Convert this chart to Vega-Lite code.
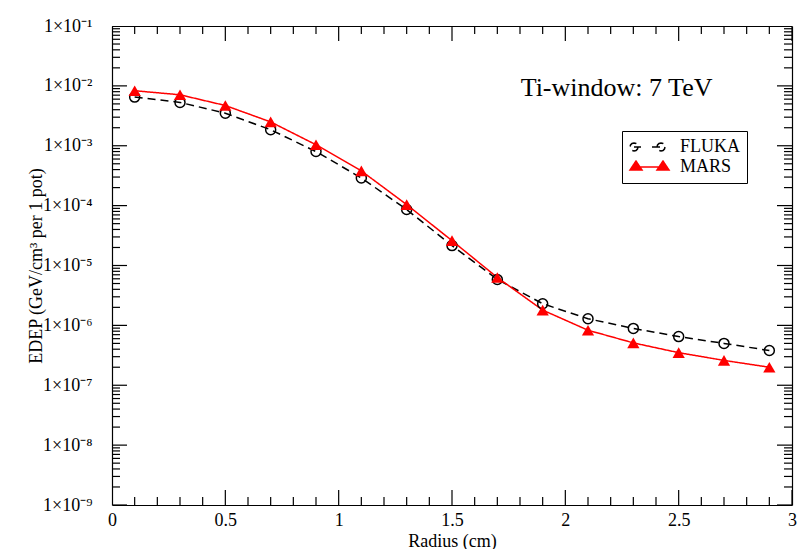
{
  "$schema": "https://vega.github.io/schema/vega-lite/v6.json",
  "width": 680,
  "height": 479,
  "autosize": {"type": "none"},
  "padding": {"left": 112, "top": 26, "right": 6, "bottom": 44},
  "background": "white",
  "config": {
    "view": {"stroke": null},
    "font": "Liberation Serif",
    "axis": {
      "domainColor": "black",
      "domainWidth": 1.2,
      "domainOpacity": 1,
      "labelFont": "Liberation Serif",
      "titleFont": "Liberation Serif",
      "labelColor": "black",
      "titleColor": "black",
      "titleFontWeight": "normal",
      "grid": false
    }
  },
  "datasets": {
    "curves": [
      {"r": 0.1, "edep": 6.5e-3, "code": "FLUKA"},
      {"r": 0.3, "edep": 5.3e-3, "code": "FLUKA"},
      {"r": 0.5, "edep": 3.5e-3, "code": "FLUKA"},
      {"r": 0.7, "edep": 1.85e-3, "code": "FLUKA"},
      {"r": 0.9, "edep": 8.0e-4, "code": "FLUKA"},
      {"r": 1.1, "edep": 2.9e-4, "code": "FLUKA"},
      {"r": 1.3, "edep": 8.6e-5, "code": "FLUKA"},
      {"r": 1.5, "edep": 2.15e-5, "code": "FLUKA"},
      {"r": 1.7, "edep": 5.85e-6, "code": "FLUKA"},
      {"r": 1.9, "edep": 2.3e-6, "code": "FLUKA"},
      {"r": 2.1, "edep": 1.29e-6, "code": "FLUKA"},
      {"r": 2.3, "edep": 8.9e-7, "code": "FLUKA"},
      {"r": 2.5, "edep": 6.5e-7, "code": "FLUKA"},
      {"r": 2.7, "edep": 5.0e-7, "code": "FLUKA"},
      {"r": 2.9, "edep": 3.8e-7, "code": "FLUKA"},
      {"r": 0.1, "edep": 8.3e-3, "code": "MARS"},
      {"r": 0.3, "edep": 7.1e-3, "code": "MARS"},
      {"r": 0.5, "edep": 4.7e-3, "code": "MARS"},
      {"r": 0.7, "edep": 2.5e-3, "code": "MARS"},
      {"r": 0.9, "edep": 1.04e-3, "code": "MARS"},
      {"r": 1.1, "edep": 3.8e-4, "code": "MARS"},
      {"r": 1.3, "edep": 1.04e-4, "code": "MARS"},
      {"r": 1.5, "edep": 2.6e-5, "code": "MARS"},
      {"r": 1.7, "edep": 6.3e-6, "code": "MARS"},
      {"r": 1.9, "edep": 1.8e-6, "code": "MARS"},
      {"r": 2.1, "edep": 8.3e-7, "code": "MARS"},
      {"r": 2.3, "edep": 5.1e-7, "code": "MARS"},
      {"r": 2.5, "edep": 3.5e-7, "code": "MARS"},
      {"r": 2.7, "edep": 2.6e-7, "code": "MARS"},
      {"r": 2.9, "edep": 2.0e-7, "code": "MARS"}
    ],
    "xmajor": [{"v": 0}, {"v": 0.5}, {"v": 1}, {"v": 1.5}, {"v": 2}, {"v": 2.5}, {"v": 3}],
    "xminor": [{"v": 0.1},{"v": 0.2},{"v": 0.3},{"v": 0.4},{"v": 0.6},{"v": 0.7},{"v": 0.8},{"v": 0.9},{"v": 1.1},{"v": 1.2},{"v": 1.3},{"v": 1.4},{"v": 1.6},{"v": 1.7},{"v": 1.8},{"v": 1.9},{"v": 2.1},{"v": 2.2},{"v": 2.3},{"v": 2.4},{"v": 2.6},{"v": 2.7},{"v": 2.8},{"v": 2.9}],
    "ymajor": [{"v": 1e-9},{"v": 1e-8},{"v": 1e-7},{"v": 1e-6},{"v": 1e-5},{"v": 1e-4},{"v": 1e-3},{"v": 1e-2},{"v": 1e-1}],
    "yminor": [{"v": 2e-9},{"v": 3e-9},{"v": 4e-9},{"v": 5e-9},{"v": 6e-9},{"v": 7e-9},{"v": 8e-9},{"v": 9e-9},{"v": 2e-8},{"v": 3e-8},{"v": 4e-8},{"v": 5e-8},{"v": 6e-8},{"v": 7e-8},{"v": 8e-8},{"v": 9e-8},{"v": 2e-7},{"v": 3e-7},{"v": 4e-7},{"v": 5e-7},{"v": 6e-7},{"v": 7e-7},{"v": 8e-7},{"v": 9e-7},{"v": 2e-6},{"v": 3e-6},{"v": 4e-6},{"v": 5e-6},{"v": 6e-6},{"v": 7e-6},{"v": 8e-6},{"v": 9e-6},{"v": 2e-5},{"v": 3e-5},{"v": 4e-5},{"v": 5e-5},{"v": 6e-5},{"v": 7e-5},{"v": 8e-5},{"v": 9e-5},{"v": 2e-4},{"v": 3e-4},{"v": 4e-4},{"v": 5e-4},{"v": 6e-4},{"v": 7e-4},{"v": 8e-4},{"v": 9e-4},{"v": 2e-3},{"v": 3e-3},{"v": 4e-3},{"v": 5e-3},{"v": 6e-3},{"v": 7e-3},{"v": 8e-3},{"v": 9e-3},{"v": 2e-2},{"v": 3e-2},{"v": 4e-2},{"v": 5e-2},{"v": 6e-2},{"v": 7e-2},{"v": 8e-2},{"v": 9e-2}],
    "note": [{"label": "Ti-window: 7 TeV"}]
  },
  "layer": [
    {
      "data": {"name": "yminor"},
      "mark": {"type": "tick", "orient": "horizontal", "size": 16, "thickness": 1.2, "color": "black", "opacity": 1, "clip": true},
      "encoding": {
        "y": {"field": "v", "type": "quantitative", "axis": null},
        "x": {"datum": 0, "type": "quantitative", "axis": null}
      }
    },
    {
      "data": {"name": "yminor"},
      "mark": {"type": "tick", "orient": "horizontal", "size": 16, "thickness": 1.2, "color": "black", "opacity": 1, "clip": true},
      "encoding": {
        "y": {"field": "v", "type": "quantitative", "axis": null},
        "x": {"datum": 3, "type": "quantitative", "axis": null}
      }
    },
    {
      "data": {"name": "ymajor"},
      "mark": {"type": "tick", "orient": "horizontal", "size": 30, "thickness": 1.2, "color": "black", "opacity": 1, "clip": true},
      "encoding": {
        "y": {"field": "v", "type": "quantitative", "axis": null},
        "x": {"datum": 0, "type": "quantitative", "axis": null}
      }
    },
    {
      "data": {"name": "ymajor"},
      "mark": {"type": "tick", "orient": "horizontal", "size": 30, "thickness": 1.2, "color": "black", "opacity": 1, "clip": true},
      "encoding": {
        "y": {"field": "v", "type": "quantitative", "axis": null},
        "x": {"datum": 3, "type": "quantitative", "axis": null}
      }
    },
    {
      "data": {"name": "xminor"},
      "mark": {"type": "tick", "orient": "vertical", "size": 16, "thickness": 1.2, "color": "black", "opacity": 1, "clip": true},
      "encoding": {
        "x": {"field": "v", "type": "quantitative", "axis": null},
        "y": {"datum": 1e-9, "type": "quantitative", "axis": null}
      }
    },
    {
      "data": {"name": "xminor"},
      "mark": {"type": "tick", "orient": "vertical", "size": 16, "thickness": 1.2, "color": "black", "opacity": 1, "clip": true},
      "encoding": {
        "x": {"field": "v", "type": "quantitative", "axis": null},
        "y": {"datum": 0.1, "type": "quantitative", "axis": null}
      }
    },
    {
      "data": {"name": "xmajor"},
      "mark": {"type": "tick", "orient": "vertical", "size": 30, "thickness": 1.2, "color": "black", "opacity": 1, "clip": true},
      "encoding": {
        "x": {"field": "v", "type": "quantitative", "axis": null},
        "y": {"datum": 1e-9, "type": "quantitative", "axis": null}
      }
    },
    {
      "data": {"name": "xmajor"},
      "mark": {"type": "tick", "orient": "vertical", "size": 30, "thickness": 1.2, "color": "black", "opacity": 1, "clip": true},
      "encoding": {
        "x": {"field": "v", "type": "quantitative", "axis": null},
        "y": {"datum": 0.1, "type": "quantitative", "axis": null}
      }
    },
    {
      "data": {"name": "curves"},
      "mark": {"type": "line", "strokeWidth": 1.5},
      "encoding": {
        "x": {
          "field": "r", "type": "quantitative",
          "scale": {"domain": [0, 3], "nice": false, "zero": false},
          "axis": {
            "orient": "bottom",
            "values": [0, 0.5, 1, 1.5, 2, 2.5, 3],
            "format": "~g",
            "domain": true,
            "ticks": false,
            "tickSize": 0,
            "labelPadding": 6,
            "labelFontSize": 18,
            "labelFlush": false,
            "labelOverlap": false,
            "title": "Radius (cm)",
            "titleFontSize": 18,
            "titleX": 340,
            "titleY": 41,
            "titleAlign": "center",
            "titleBaseline": "alphabetic"
          }
        },
        "y": {
          "field": "edep", "type": "quantitative",
          "scale": {"type": "log", "domain": [1e-9, 0.1], "nice": false},
          "axis": {
            "orient": "left",
            "values": [1e-9, 1e-8, 1e-7, 1e-6, 1e-5, 1e-4, 1e-3, 1e-2, 1e-1],
            "labelExpr": "'1×10⁻' + ['⁰','¹','²','³','⁴','⁵','⁶','⁷','⁸','⁹'][-round(log(datum.value)/LN10)]",
            "domain": true,
            "ticks": false,
            "tickSize": 0,
            "labelPadding": 20,
            "labelFontSize": 18,
            "labelFlush": false,
            "labelOverlap": false,
            "title": "EDEP (GeV/cm³ per 1 pot)",
            "titleFontSize": 18,
            "titleAngle": -90,
            "titleX": -76,
            "titleY": 239.5,
            "titleAlign": "center",
            "titleBaseline": "middle"
          }
        },
        "color": {
          "field": "code", "type": "nominal",
          "scale": {"domain": ["FLUKA", "MARS"], "range": ["black", "red"]},
          "legend": {
            "title": null,
            "orient": "none",
            "legendX": 510,
            "legendY": 105,
            "padding": 6,
            "strokeColor": "black",
            "fillColor": "white",
            "labelFont": "Liberation Serif",
            "labelFontSize": 18,
            "labelColor": "black",
            "labelOffset": 10,
            "symbolSize": 1600,
            "symbolStrokeWidth": 1.5,
            "clipHeight": 20,
            "rowPadding": 0,
            "encode": {
              "symbols": {
                "update": {
                  "shape": {"signal": "datum.value === 'FLUKA' ? 'M -0.55 0 L -0.577 0.1 L -0.65 0.173 L -0.75 0.2 L -0.85 0.173 L -0.923 0.1 L -0.95 0 L -0.923 -0.1 L -0.85 -0.173 L -0.75 -0.2 L -0.65 -0.173 L -0.577 -0.1 Z M -0.75 0 L -0.4 0 M 0.15 0 L 0.6 0 M 0.8 0 L 0.773 0.1 L 0.7 0.173 L 0.6 0.2 L 0.5 0.173 L 0.427 0.1 L 0.4 0 L 0.427 -0.1 L 0.5 -0.173 L 0.6 -0.2 L 0.7 -0.173 L 0.773 -0.1 Z' : 'M -0.95 0.15 L -0.65 -0.3 L -0.35 0.15 Z M -0.65 0 L 0.7 0 M 0.4 0.15 L 0.7 -0.3 L 1.0 0.15 Z'"},
                  "fill": {"signal": "datum.value === 'FLUKA' ? 'transparent' : 'red'"},
                  "stroke": {"signal": "datum.value === 'FLUKA' ? 'black' : 'red'"},
                  "strokeDash": {"value": []},
                  "strokeWidth": {"value": 1.5},
                  "opacity": {"value": 1}
                }
              }
            }
          }
        },
        "strokeDash": {
          "field": "code", "type": "nominal",
          "scale": {"domain": ["FLUKA", "MARS"], "range": [[8, 5], [1, 0]]},
          "legend": null
        }
      }
    },
    {
      "data": {"name": "curves"},
      "transform": [{"filter": "datum.code === 'FLUKA'"}],
      "mark": {"type": "point", "shape": "circle", "size": 100, "filled": false, "stroke": "black", "strokeWidth": 1.5, "opacity": 1},
      "encoding": {
        "x": {
          "field": "r", "type": "quantitative",
          "axis": {"orient": "top", "labels": false, "ticks": false, "domain": true, "title": null}
        },
        "y": {
          "field": "edep", "type": "quantitative",
          "axis": {"orient": "right", "labels": false, "ticks": false, "domain": true, "title": null}
        }
      }
    },
    {
      "data": {"name": "curves"},
      "transform": [{"filter": "datum.code === 'MARS'"}],
      "mark": {"type": "point", "shape": "triangle-up", "size": 150, "filled": true, "color": "red", "opacity": 1},
      "encoding": {
        "x": {"field": "r", "type": "quantitative", "axis": null},
        "y": {"field": "edep", "type": "quantitative", "axis": null}
      }
    },
    {
      "data": {"name": "note"},
      "mark": {"type": "text", "font": "Liberation Serif", "fontSize": 26, "align": "left", "baseline": "alphabetic", "color": "black"},
      "encoding": {
        "text": {"field": "label"},
        "x": {"datum": 1.803, "type": "quantitative", "axis": null},
        "y": {"datum": 0.0068, "type": "quantitative", "axis": null}
      }
    }
  ],
  "resolve": {"axis": {"x": "independent", "y": "independent"}}
}
